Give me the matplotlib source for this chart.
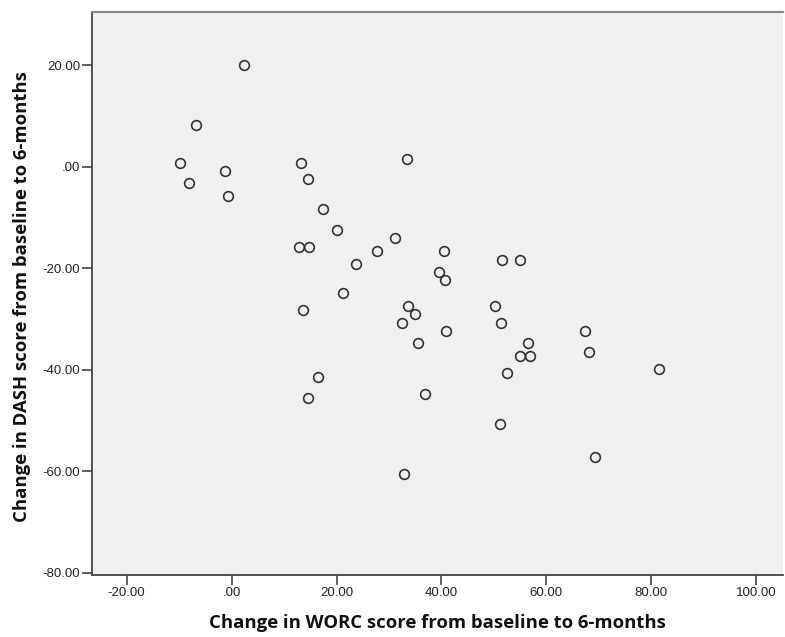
import matplotlib
matplotlib.use("Agg")
import matplotlib.pyplot as plt

worc_change = [2.4, -6.7, -9.8, -8.1, -1.2, -0.7, 13.2, 14.6, 17.5, 20.1,
               31.1, 12.8, 14.7, 27.8, 40.5, 23.8, 51.5, 55.0, 39.5, 40.6,
               21.3, 13.7, 33.7, 34.9, 32.5, 50.3, 51.3, 40.9, 35.5, 56.4,
               55.0, 56.9, 52.4, 16.4, 14.5, 36.9, 51.2, 32.8, 67.3, 68.2,
               81.5, 69.3, 33.5]
dash_change = [20.0, 8.2, 0.7, -3.3, -0.9, -5.8, 0.7, -2.5, -8.4, -12.5,
               -14.0, -15.8, -15.8, -16.6, -16.6, -19.1, -18.3, -18.3, -20.7, -22.4,
               -24.9, -28.2, -27.4, -29.1, -30.7, -27.4, -30.7, -32.4, -34.8, -34.8,
               -37.3, -37.3, -40.7, -41.5, -45.6, -44.8, -50.6, -60.5, -32.4, -36.5,
               -39.9, -57.2, 1.6]

x_ticks = [-20, 0, 20, 40, 60, 80, 100]
x_tick_labels = ["-20.00", ".00", "20.00", "40.00", "60.00", "80.00", "100.00"]
y_ticks = [-80, -60, -40, -20, 0, 20]
y_tick_labels = ["-80.00", "-60.00", "-40.00", "-20.00", ".00", "20.00"]

x_label = "Change in WORC score from baseline to 6-months"
y_label = "Change in DASH score from baseline to 6-months"

fig = plt.figure(figsize=(7.85, 6.37), dpi=100)
ax = fig.add_axes([0.1172, 0.0973, 0.8803, 0.8834])
ax.set_facecolor("#F0F0F0")

ax.plot(worc_change, dash_change, linestyle="none", marker="o", ms=7,
        mfc="none", mec="#333333", mew=1.2)

ax.set_xlim(-26.6, 105.1)
ax.set_ylim(-80.4, 30.4)

ax.set_xticks(x_ticks)
ax.set_xticklabels(x_tick_labels)
ax.set_yticks(y_ticks)
ax.set_yticklabels(y_tick_labels)

for lab in ax.get_xticklabels() + ax.get_yticklabels():
    lab.set_fontfamily("Liberation Sans")
    lab.set_fontsize(9.5)
    lab.set_color("#222222")

ax.tick_params(direction="out", length=7, width=1.2, color="#444444", pad=1.5)

ax.spines["left"].set_color("#444444")
ax.spines["left"].set_linewidth(1.3)
ax.spines["bottom"].set_color("#444444")
ax.spines["bottom"].set_linewidth(1.3)
ax.spines["top"].set_color("#8a8a8a")
ax.spines["top"].set_linewidth(1.6)
ax.spines["right"].set_visible(False)

ax.set_xlabel(x_label, fontfamily="Open Sans", fontweight="bold", fontsize=13.3,
              color="#111111", labelpad=11)
ax.set_ylabel(y_label, fontfamily="Open Sans", fontweight="bold", fontsize=13.3,
              color="#111111", labelpad=8)
ax.yaxis.set_label_coords(-0.0885, 0.494)

fig.savefig("out.png", dpi=100)
